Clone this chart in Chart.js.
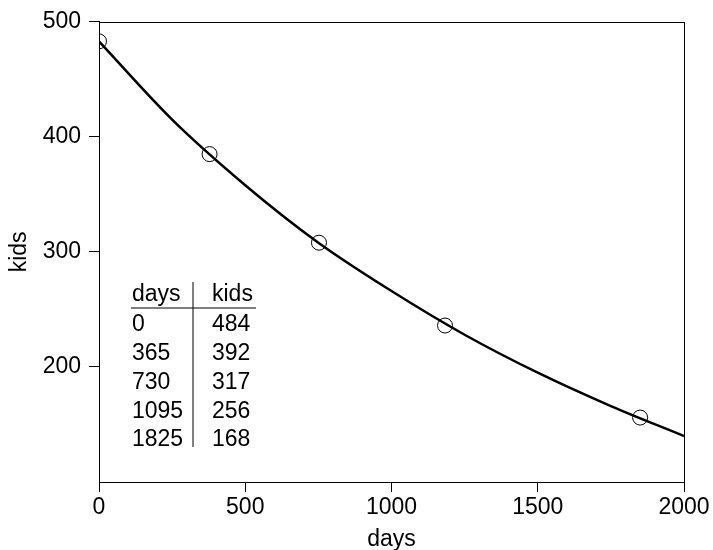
<!DOCTYPE html>
<html>
<head>
<meta charset="utf-8">
<script src="https://cdn.jsdelivr.net/npm/chart.js@4/dist/chart.umd.min.js"></script>
<style>
  html, body { margin: 0; padding: 0; background: #fff; }
</style>
</head>
<body>
<canvas id="kids-chart" width="713" height="550"></canvas>
<script>
var obsDays = [0, 378, 752, 1183, 1850];
var obsKids = [483, 385, 308, 236, 156];

// fitted curve, read at regular steps
var curveDays = [0, 250, 500, 750, 1000, 1250, 1500, 1750, 2000];
var curveKids = [483, 415, 358, 308, 266, 228, 195, 166, 140];

var xTicks = [0, 500, 1000, 1500, 2000];
var yTicks = [200, 300, 400, 500];

// the little table in the plot
var tableHead = ["days", "kids"];
var tableDays = ["0", "365", "730", "1095", "1825"];
var tableKids = ["484", "392", "317", "256", "168"];

var FONT = "'Liberation Sans', Arial, Helvetica, sans-serif";

function toXY(xs, ys) {
    return xs.map(function(x, i) { return {x: x, y: ys[i]}; });
}

var boxPlugin = {
    id: 'boxAndTable',
    afterDraw: function(chart) {
        var c = chart.ctx, a = chart.chartArea;
        c.save();
        c.strokeStyle = '#000';
        c.lineWidth = 1;
        c.strokeRect(Math.round(a.left) + 0.5, Math.round(a.top) + 0.5,
                     Math.round(a.right - a.left), Math.round(a.bottom - a.top));

        // table
        var left = a.left + 33, col2 = a.left + 113, sep = a.left + 94;
        var head = 301.4, step = 28.7;
        c.fillStyle = '#000';
        c.font = '23px ' + FONT;
        c.textBaseline = 'alphabetic';
        c.textAlign = 'left';
        c.fillText(tableHead[0], left, head);
        c.fillText(tableHead[1], col2, head);
        tableDays.forEach(function(d, i) {
            var y = head + 30 + i * step;
            c.fillText(d, left, y);
            c.fillText(tableKids[i], col2, y);
        });
        c.beginPath();
        c.moveTo(left - 1, 308);
        c.lineTo(col2 + 44, 308);
        c.moveTo(sep, 282);
        c.lineTo(sep, 447);
        c.stroke();
        c.restore();
    }
};

var ctx = document.getElementById('kids-chart').getContext('2d');
var chart = new Chart(ctx, {
    type: 'scatter',
    data: {
        datasets: [{
            type: 'line',
            data: toXY(curveDays, curveKids),
            borderColor: '#000',
            borderWidth: 2.5,
            pointRadius: 0,
            cubicInterpolationMode: 'monotone',
            fill: false
        }, {
            data: toXY(obsDays, obsKids),
            pointRadius: 7.5,
            pointBorderWidth: 1,
            pointBorderColor: '#000',
            pointBackgroundColor: 'rgba(0,0,0,0)'
        }]
    },
    options: {
        responsive: false,
        animation: false,
        layout: { padding: { top: 18, right: 29, left: 0, bottom: 0 } },
        plugins: {
            legend: { display: false },
            tooltip: { enabled: false }
        },
        scales: {
            x: {
                type: 'linear',
                min: 0,
                max: 2000,
                afterBuildTicks: function(s) { s.ticks = xTicks.map(function(v) { return {value: v}; }); },
                afterFit: function(s) { s.height = 68; },
                grid: { drawOnChartArea: false, tickLength: 10, tickColor: '#000' },
                border: { color: '#000', width: 1 },
                ticks: {
                    color: '#000', padding: 2, maxRotation: 0,
                    font: { family: FONT, size: 23 },
                    callback: function(v) { return String(v); }
                },
                title: { display: true, text: 'days', color: '#000', padding: { top: 0, bottom: -3 }, font: { family: FONT, size: 23 } }
            },
            y: {
                type: 'linear',
                min: 100,
                max: 500,
                afterBuildTicks: function(s) { s.ticks = yTicks.map(function(v) { return {value: v}; }); },
                afterFit: function(s) { s.width = 99; },
                grid: { drawOnChartArea: false, tickLength: 10, tickColor: '#000' },
                border: { color: '#000', width: 1 },
                ticks: {
                    color: '#000', padding: 8,
                    font: { family: FONT, size: 23 },
                    callback: function(v) { return String(v); }
                },
                title: { display: true, text: 'kids', color: '#000', padding: { top: 6, bottom: 0 }, font: { family: FONT, size: 23 } }
            }
        }
    },
    plugins: [boxPlugin]
});
</script>
</body>
</html>
